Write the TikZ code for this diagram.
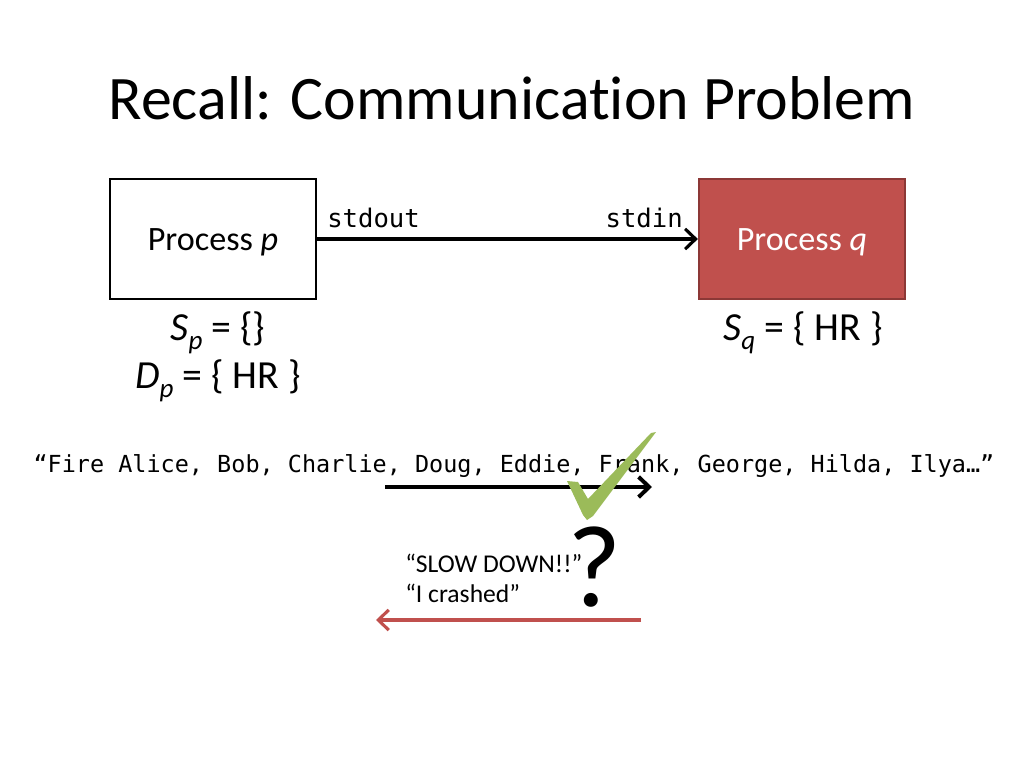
\documentclass[tikz,border=0pt]{standalone}
\usepackage{fontspec}
\setmainfont{Carlito}[Ligatures=NoCommon]
\setmonofont{DejaVu Sans Mono}
\usetikzlibrary{positioning,arrows.meta}
\definecolor{procred}{RGB}{192,80,77}
\definecolor{procedge}{RGB}{140,56,54}
\definecolor{okgreen}{RGB}{155,187,89}
\newcommand\subidx[1]{\raisebox{-0.5ex}{\fontsize{19}{20}\selectfont\itshape #1}}
\tikzset{
  proc/.style={draw,line width=1.4pt,minimum width=145pt,minimum height=84pt,font=\fontsize{24}{28}\selectfont},
  setlbl/.style={font=\fontsize{28}{34}\selectfont,inner sep=0pt},
  mono/.style={font=\fontsize{18}{20}\selectfont\ttfamily,inner sep=0pt},
  quote/.style={font=\fontsize{18}{22}\selectfont,inner sep=0pt,anchor=base west},
  msg/.style={-{Straight Barb[length=2.6mm,width=5mm]},line width=2.2pt},
}

\begin{document}
\begin{tikzpicture}[x=0.703pt,y=-0.703pt]
  \useasboundingbox (0,0) rectangle (1024,768);
  \node[font=\fontsize{43.5}{52}\selectfont] (title) at (512,98) {Recall: Communication Problem};
  % the two processes
  \node[proc,fill=white] (p) at (213,239) {};
  \node[proc,fill=procred,draw=procedge,text=white] (q) at (802,239) {};
  \node[font=\fontsize{24}{28}\selectfont,anchor=base] (pname) at (213,250) {Process \textit{p}};
  \node[font=\fontsize{24}{28}\selectfont,anchor=base,text=white] (qname) at (802,250) {Process \textit{q}};
  \draw[msg] (p) -- (q);
  \node[mono,anchor=base west] (out) at (327,227) {stdout};
  \node[mono,anchor=base east] (in) at (683,227) {stdin};
  % state of each side
  \node[setlbl,anchor=base] (sp) at (218,340) {\textit{S}\subidx{p} = \{\}};
  \node[setlbl,anchor=base] (dp) at (218,388) {\textit{D}\subidx{p} = \{ HR \}};
  \node[setlbl,anchor=base] (sq) at (803,340) {\textit{S}\subidx{q} = \{ HR \}};
  % the stream
  \node[font=\fontsize{16.5}{20}\selectfont\ttfamily,inner sep=0pt,anchor=base] (cmds) at (514,472)
    {“Fire Alice, Bob, Charlie, Doug, Eddie, Frank, George, Hilda, Ilya…”};
  \coordinate (s1) at (385,487);
  \coordinate (s2) at (652,487);
  \draw[msg,line width=2.8pt] (s1) -- (s2);
  \fill[okgreen] (567,481) -- (578,482) -- (588,499) -- (651,433) -- (656,432)
    -- (593,516) -- (587,520) -- (583,515) -- cycle;
  \node[font=\fontsize{82}{90}\selectfont,inner sep=0pt,anchor=base] (qm) at (595,606) {?};
  \node[quote] (slow) at (405,572) {“SLOW DOWN!!”};
  \node[quote] (crash) at (405,602) {“I crashed”};
  \coordinate (r1) at (641,620);
  \coordinate (r2) at (376,620);
  \draw[msg,procred] (r1) -- (r2);
\end{tikzpicture}
\end{document}
